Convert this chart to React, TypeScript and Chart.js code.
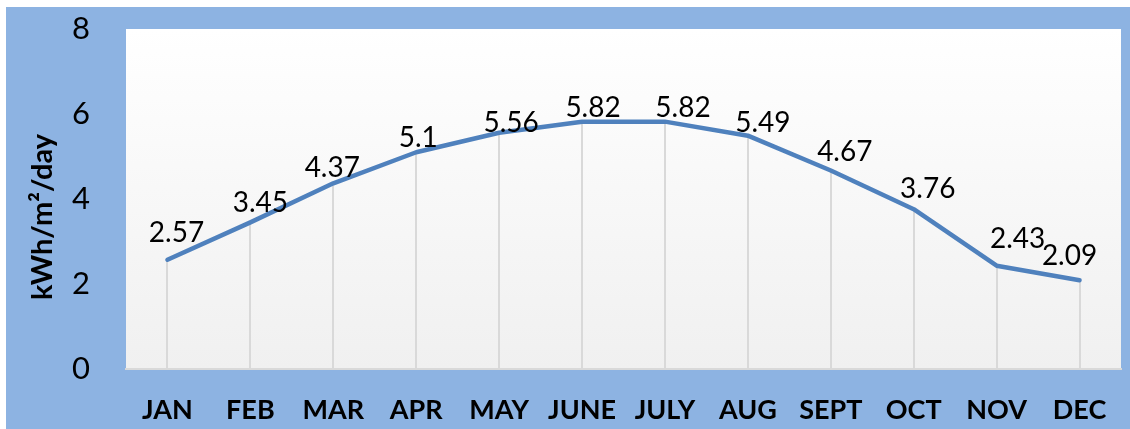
import React, { useEffect, useRef } from "react";
import { Chart, registerables } from "chart.js";

Chart.register(...registerables);

const months = ["JAN", "FEB", "MAR", "APR", "MAY", "JUNE", "JULY", "AUG", "SEPT", "OCT", "NOV", "DEC"];
const irradiance = [2.57, 3.45, 4.37, 5.1, 5.56, 5.82, 5.82, 5.49, 4.67, 3.76, 2.43, 2.09];
const yTicks = [0, 2, 4, 6, 8];
const yTitle = "kWh/m\u00B2/day";

// label placement offsets (px) relative to each point, as placed in the original
const labelDx = [9, 10, -1, 2, 12, 11, 18, 15, 14, 14, 21, -10];
const labelDy = [-18, -10, -6, -5, -1, -5, -5, -4, -10, -11, -18, -15];

const BLUE = "#8DB3E2";
const LINE = "#4F81BD";

const decorPlugin = {
  id: "decor",
  beforeDraw(chart: any) {
    const { ctx, chartArea } = chart;
    ctx.save();
    ctx.fillStyle = "#ffffff";
    ctx.fillRect(0, 0, chart.width, chart.height);
    ctx.fillStyle = BLUE;
    ctx.fillRect(6, 7, chart.width - 6, chart.height - 7);
    const g = ctx.createLinearGradient(0, chartArea.top, 0, chartArea.bottom);
    g.addColorStop(0, "#ffffff");
    g.addColorStop(1, "#f0f0f0");
    ctx.fillStyle = g;
    ctx.fillRect(chartArea.left, chartArea.top, chartArea.right - chartArea.left, chartArea.bottom - chartArea.top);
    // y title
    ctx.translate(43, 217);
    ctx.rotate(-Math.PI / 2);
    ctx.fillStyle = "#000";
    ctx.font = "bold 29px Lato";
    ctx.textAlign = "center";
    ctx.textBaseline = "middle";
    ctx.fillText(yTitle, 0, 0);
    ctx.restore();
  },
  beforeDatasetsDraw(chart: any) {
    const { ctx, chartArea } = chart;
    const meta = chart.getDatasetMeta(0);
    ctx.save();
    ctx.strokeStyle = "#d9d9d9";
    ctx.lineWidth = 2;
    meta.data.forEach((pt: any) => {
      const x = Math.round(pt.x);
      ctx.beginPath();
      ctx.moveTo(x, pt.y);
      ctx.lineTo(x, chartArea.bottom);
      ctx.stroke();
    });
    ctx.restore();
  },
  afterDatasetsDraw(chart: any) {
    const { ctx } = chart;
    const meta = chart.getDatasetMeta(0);
    ctx.save();
    ctx.fillStyle = "#000";
    ctx.font = "28px Lato";
    ctx.textAlign = "center";
    ctx.textBaseline = "alphabetic";
    meta.data.forEach((pt: any, i: number) => {
      ctx.fillText(String(irradiance[i]), pt.x + labelDx[i], pt.y + labelDy[i]);
    });
    ctx.restore();
  },
};

export default function App() {
  const ref = useRef<HTMLCanvasElement>(null);
  useEffect(() => {
    if (!ref.current) return;
    const chart = new Chart(ref.current, {
      type: "line",
      data: {
        labels: months,
        datasets: [
          {
            data: irradiance,
            borderColor: LINE,
            borderWidth: 4.5,
            pointRadius: 0,
            borderCapStyle: "round",
            borderJoinStyle: "round",
            tension: 0,
            fill: false,
          },
        ],
      },
      options: {
        responsive: false,
        animation: false,
        devicePixelRatio: 1,
        layout: { padding: { left: 0, top: 29, right: 9, bottom: 0 } },
        plugins: { legend: { display: false }, tooltip: { enabled: false } },
        scales: {
          x: {
            type: "category",
            offset: true,
            grid: { display: false, drawTicks: false },
            border: { display: true, color: "#d9d9d9", width: 2 },
            ticks: { color: "#000", font: { family: "Lato", size: 27, weight: "bold" }, padding: 25, maxRotation: 0, autoSkip: false },
            afterFit: (s: any) => { s.height = 60; s.paddingLeft = 0; s.paddingRight = 0; },
          },
          y: {
            min: 0,
            max: 8,
            afterBuildTicks: (s: any) => { s.ticks = yTicks.map((v) => ({ value: v })); },
            grid: { display: false, drawTicks: false },
            border: { display: false },
            ticks: { color: "#000", font: { family: "Lato", size: 31 }, padding: 36 },
            afterFit: (s: any) => { s.width = 126; s.paddingTop = 0; s.paddingBottom = 0; },
          },
        },
      },
      plugins: [decorPlugin],
    });
    return () => chart.destroy();
  }, []);
  return (
    <div style={{ position: "absolute", left: 0, top: 0, width: 1130, height: 429 }}>
      <canvas ref={ref} width={1130} height={429} style={{ width: 1130, height: 429, display: "block" }} />
    </div>
  );
}
